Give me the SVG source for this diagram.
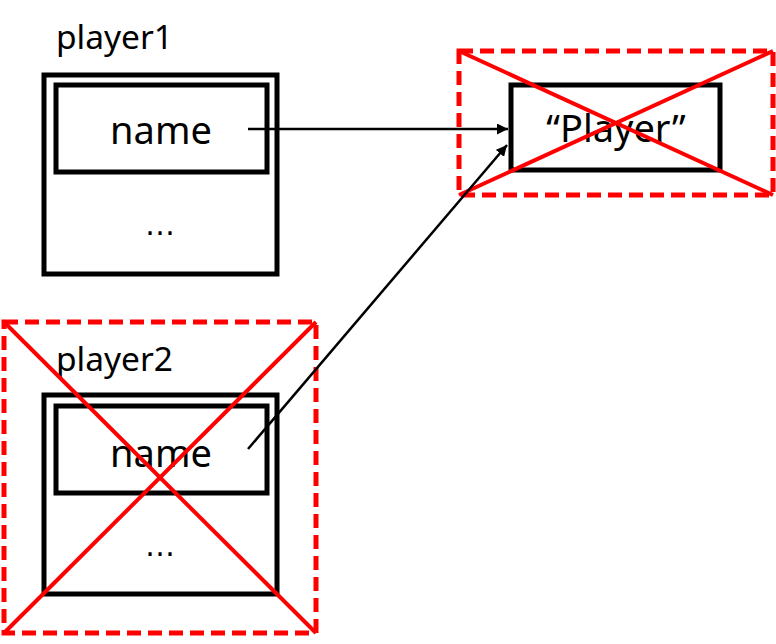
<svg xmlns="http://www.w3.org/2000/svg" width="776" height="644" viewBox="0 0 776 644">
<defs>
<style>
.box{fill:none;stroke:#000;stroke-width:5}
.lbl{font-family:"Noto Sans","Liberation Sans",sans-serif;fill:#000}
.big{font-size:38px;text-anchor:middle}
.title{font-size:33.5px}
.dots{font-family:"DejaVu Sans",sans-serif;font-size:30px;text-anchor:middle;fill:#000}
.del{fill:none;stroke:#f00;stroke-width:5;stroke-dasharray:14 7}
.cross{stroke:#f00;stroke-width:4}
.conn{stroke:#000;stroke-width:2.5;fill:none}
</style>
<marker id="ah" viewBox="0 0 10 10" refX="10" refY="5" markerWidth="4.4" markerHeight="4.4" orient="auto" markerUnits="strokeWidth">
<path d="M0,0 L10,5 L0,10 z" fill="#000"/>
</marker>
</defs>
<rect width="776" height="644" fill="#fff"/>
<g id="player1">
<text class="lbl title" x="56" y="49">player1</text>
<rect class="box" x="44" y="75" width="233" height="199"/>
<rect class="box" x="56" y="85" width="211" height="87"/>
<text class="lbl big" x="161" y="144">name</text>
<text class="dots" x="160" y="235">…</text>
</g>
<g id="player-string">
<rect class="box" x="511" y="85" width="209" height="85"/>
<text class="lbl big" x="616" y="142">“Player”</text>
<rect class="del" x="459" y="51" width="314" height="144"/>
<line class="cross" x1="459" y1="51" x2="773" y2="195"/>
<line class="cross" x1="773" y1="51" x2="459" y2="195"/>
</g>
<g id="player2">
<text class="lbl title" x="56" y="371">player2</text>
<rect class="box" x="44" y="395" width="233" height="199"/>
<rect class="box" x="56" y="406" width="211" height="87"/>
<text class="lbl big" x="161" y="467">name</text>
<text class="dots" x="160" y="556">…</text>
<rect class="del" x="4" y="322" width="312" height="311"/>
<line class="cross" x1="4" y1="322" x2="316" y2="633"/>
<line class="cross" x1="316" y1="322" x2="4" y2="633"/>
</g>
<g id="connectors">
<line class="conn" x1="248" y1="129" x2="508" y2="129" marker-end="url(#ah)"/>
<line class="conn" x1="248" y1="449" x2="507" y2="145" marker-end="url(#ah)"/>
</g>
</svg>
